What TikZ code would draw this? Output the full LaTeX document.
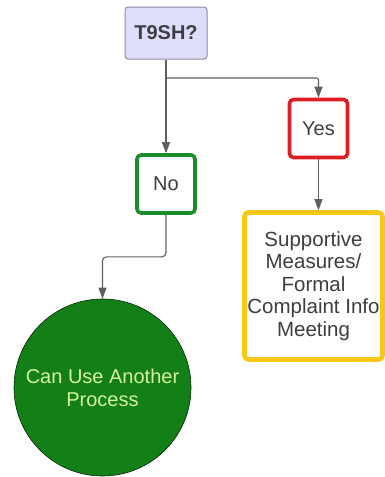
\documentclass[tikz,border=0pt]{standalone}
\usepackage{fontspec}
\setmainfont{Liberation Sans}
\usepackage{tikz}
\usetikzlibrary{arrows.meta}
\definecolor{qlav}{RGB}{222,222,250}
\definecolor{qedge}{RGB}{140,140,165}
\definecolor{txtgray}{RGB}{62,62,66}
\definecolor{linegray}{RGB}{95,95,95}
\definecolor{ansgreen}{RGB}{28,140,40}
\definecolor{ansred}{RGB}{222,30,34}
\definecolor{ansyellow}{RGB}{250,200,20}
\definecolor{circfill}{RGB}{18,128,22}
\definecolor{circtext}{RGB}{214,242,160}
\tikzset{
  flowtext/.style={font=\fontsize{20}{23}\selectfont, text=txtgray, align=center},
  qnode/.style  ={rectangle, rounded corners=3pt, draw=qedge, fill=qlav, line width=1pt,
                  minimum width=82pt, minimum height=52pt, flowtext, font=\fontsize{20}{23}\selectfont\bfseries},
  ansbox/.style ={rectangle, rounded corners=4pt, fill=white, line width=3.6pt,
                  minimum width=58pt, minimum height=58pt, flowtext},
  ansno/.style  ={ansbox, draw=ansgreen},
  ansyes/.style ={ansbox, draw=ansred},
  outbox/.style ={rectangle, rounded corners=4pt, draw=ansyellow, fill=white, line width=4.6pt,
                  minimum width=138pt, minimum height=147pt, inner sep=1pt, flowtext,
                  font=\fontsize{20.5}{22.5}\selectfont},
  outcirc/.style={circle, draw=black!70!circfill, fill=circfill, line width=0.6pt,
                  minimum size=177pt, inner sep=0pt, flowtext, text=circtext},
  fline/.style  ={-{Triangle[length=11pt,width=8pt]}, line width=1.1pt, linegray},
}

\begin{document}
\begin{tikzpicture}[x=1pt,y=-1pt]
  \useasboundingbox (0,0) rectangle (385,477);
  % question and answers
  \node[qnode]  (q)   at (166,33)    {T9SH?};
  \node[ansno]  (no)  at (166,184)   {No};
  \node[ansyes] (yes) at (318.5,128.5) {Yes};
  % outcomes
  \node[outbox]  (sup)  at (313.5,286) {Supportive\\Measures/\\Formal\\Complaint Info\\Meeting};
  \node[outcirc] (circ) at (102.5,387.5) {Can Use Another\\Process};
  \coordinate (fork) at (166,78);
  \draw[fline] (q) -- (no);
  \draw[fline, rounded corners=2pt] (fork) -| (yes);
  \draw[fline] (yes.south) -- (yes.south |- sup.north);
  \draw[fline, rounded corners=4pt] (no.south) -- ++(0,42) -| (circ.north);
\end{tikzpicture}
\end{document}
